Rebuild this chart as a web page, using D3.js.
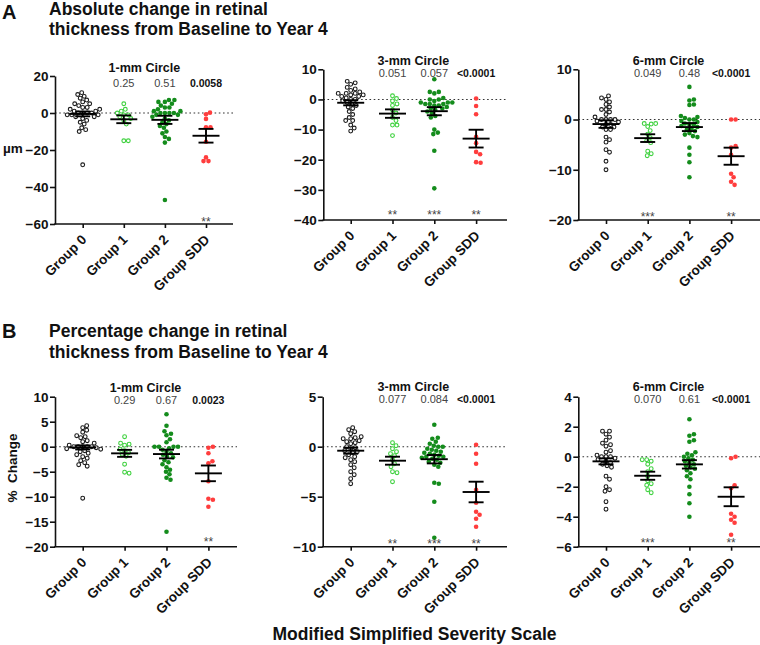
<!DOCTYPE html>
<html><head><meta charset="utf-8">
<script src="https://cdn.jsdelivr.net/npm/d3@7"></script>
<style>
body{margin:0;background:#fff}
svg{display:block;font-family:"Liberation Sans",Arial,Helvetica,sans-serif}
</style>
</head><body>
<svg id="c" width="760" height="645"></svg>
<script>
// ---------- DATA ----------
const groups = ["Group 0", "Group 1", "Group 2", "Group SDD"];

// A: absolute change (µm)
const a1_g0 = [11, 10, 9, 8, 7, 6, 5, 5, 4, 3, 3, 2, 2, 1, 1, 0, 0, 0, 0, -1, -1, -1, -2, -2, -3, -4, -5, -6, -8, -9, -10, -28];
const a1_g1 = [5, 2, 1, 0, -1, -1, -2, -3, -4, -6, -15, -15];
const a1_g2 = [7, 7, 6, 6, 5, 4, 3, 3, 2, 1, 1, 0, 0, 0, 0, -1, -1, -2, -3, -4, -5, -6, -7, -8, -10, -11, -13, -14, -16, -47];
const a1_sdd = [0.2, -0.7, -3.2, -7.7, -7.7, -15.5, -24, -26, -26];
const a1_mean = [-0.5, -3.4, -3.7, -12.3];
const a1_sem = [1.3, 2.1, 2.2, 3.7];
const a1_p = ["", "0.25", "0.51", "0.0058"];
const a1_stars = ["", "", "", "**"];
const a1_ticks = [20, 0, -20, -40, -60];

const a2_g0 = [6, 5.5, 5, 4, 3.5, 3, 2.5, 2, 2, 2, 1.5, 1.5, 1, 1, 0.5, 0, 0, -0.5, -1, -1.5, -2, -2.5, -3, -4, -5, -6, -7, -7, -8.5, -9.5, -10.5];
const a2_g1 = [1.2, 0.3, -0.5, -1.5, -2, -3.5, -4.5, -6, -7, -8.5, -8.5, -12];
const a2_g2 = [6.7, 2.5, 2.5, 2, 0.5, 0, 0, -0.5, -1, -1, -1, -1.5, -1.5, -1.5, -2, -2, -2.5, -3, -3, -3.5, -4, -4.5, -5.5, -6, -10, -11, -11.5, -17, -29.5];
const a2_sdd = [0.3, -2.2, -4.9, -12.4, -14.5, -17.4, -18.2, -20.8, -21];
const a2_mean = [-1.1, -4.7, -3.9, -13];
const a2_sem = [0.85, 1.4, 1.35, 2.95];
const a2_p = ["", "0.051", "0.057", "<0.0001"];
const a2_stars = ["", "**", "***", "**"];
const a2_ticks = [10, 0, -10, -20, -30, -40];

const a3_g0 = [4.7, 4.3, 4, 3.5, 3, 2.5, 2, 2, 1.5, 1, 0.5, 0, 0, 0, 0, -0.3, -0.5, -1, -1, -1.5, -1.5, -2, -2, -3.5, -4, -4.5, -6, -6.5, -8.3, -10];
const a3_g1 = [-0.8, -0.8, -0.9, -1.4, -2.2, -2.9, -3.6, -4.2, -4.6, -6.3, -6.8, -7.2];
const a3_g2 = [6.5, 4, 3.8, 3, 2.9, 0.7, 0.5, 0.3, 0, 0, -0.3, -0.5, -0.8, -1, -1, -1.3, -1.5, -1.8, -2, -2.3, -2.7, -3, -3.3, -3.5, -5.6, -7, -8.5, -11.5];
const a3_sdd = [0, 0, -5.3, -5.6, -7, -10.8, -11.5, -12.4, -13];
const a3_mean = [-0.9, -3.7, -1.5, -7.3];
const a3_sem = [0.75, 0.77, 0.8, 1.7];
const a3_p = ["", "0.049", "0.48", "<0.0001"];
const a3_stars = ["", "***", "", "**"];
const a3_ticks = [10, 0, -10, -20];

// B: percentage change
const b1_g0 = [4.2, 3.8, 3.3, 2.9, 2.2, 2, 1.8, 1.2, 1, 0.7, 0.3, 0, 0, 0, 0, 0, -0.2, -0.4, -0.5, -0.8, -1, -1.3, -1.6, -2, -2.3, -2.8, -3.2, -3.6, -3.9, -10.3];
const b1_g1 = [2, 0.7, 0.5, 0.3, -0.5, -0.8, -1.2, -1.5, -1.9, -3.5, -5.1, -5.3];
const b1_g2 = [6.5, 4.2, 3.1, 2.6, 2.3, 1.5, 0.9, 0, 0, 0, 0, -0.3, -0.6, -1, -1.3, -1.6, -2, -2.1, -2.7, -3.1, -3.5, -4.1, -4.6, -5, -5.5, -6.2, -6.6, -17];
const b1_sdd = [0, -0.2, -1.3, -2.9, -3.3, -6.9, -10.4, -10.6, -12];
const b1_mean = [-0.15, -1.33, -1.47, -5.33];
const b1_sem = [0.4, 0.7, 0.87, 1.57];
const b1_p = ["", "0.29", "0.67", "0.0023"];
const b1_stars = ["", "", "", "**"];
const b1_ticks = [10, 5, 0, -5, -10, -15, -20];

const b2_g0 = [1.9, 1.7, 1.5, 1.3, 1, 0.9, 0.8, 0.8, 0.6, 0.5, 0.4, 0.3, 0, -0.1, -0.2, -0.4, -0.5, -0.6, -0.8, -1, -1.1, -1.3, -1.5, -1.8, -2.1, -2.5, -2.8, -3.2, -3.7];
const b2_g1 = [0.4, 0.1, -0.2, -0.5, -0.7, -0.9, -1.3, -1.7, -2, -2.5, -2.6, -3.5];
const b2_g2 = [2.2, 0.9, 0.8, 0.5, 0.3, 0.1, 0, 0, -0.2, -0.3, -0.4, -0.5, -0.6, -0.7, -0.8, -0.9, -1, -1, -1.1, -1.2, -1.3, -1.5, -1.6, -1.8, -2, -3.6, -3.7, -5.5, -9.1];
const b2_sdd = [0.2, -0.7, -1.7, -4.3, -5.6, -6.5, -6.8, -7.2, -8];
const b2_mean = [-0.4, -1.4, -1.25, -4.53];
const b2_sem = [0.3, 0.4, 0.42, 1.03];
const b2_p = ["", "0.077", "0.084", "<0.0001"];
const b2_stars = ["", "**", "***", "**"];
const b2_ticks = [5, 0, -5, -10];

const b3_g0 = [1.7, 1.7, 1.5, 1.3, 1.1, 0.9, 0.8, 0.7, 0.4, 0.3, 0.1, 0, 0, 0, -0.1, -0.2, -0.3, -0.4, -0.5, -0.6, -0.7, -1.3, -1.5, -2, -2.2, -2.3, -3, -3.5];
const b3_g1 = [-0.2, -0.2, -0.3, -0.5, -0.8, -1, -1.3, -1.6, -1.8, -1.9, -2.2, -2.4];
const b3_g2 = [2.5, 1.5, 1.4, 1.1, 1, 0.3, 0.2, 0.1, 0, -0.1, -0.2, -0.3, -0.4, -0.5, -0.6, -0.7, -0.8, -0.9, -1.1, -1.3, -1.5, -2, -2.5, -3.1, -4];
const b3_sdd = [0, -0.1, -1.9, -2.1, -3.8, -4, -4.2, -4.4, -5.2];
const b3_mean = [-0.31, -1.27, -0.51, -2.67];
const b3_sem = [0.2, 0.27, 0.28, 0.63];
const b3_p = ["", "0.070", "0.61", "<0.0001"];
const b3_stars = ["", "***", "", "**"];
const b3_ticks = [4, 2, 0, -2, -4, -6];

const panelTitles = ["1-mm Circle", "3-mm Circle", "6-mm Circle"];

// ---------- STYLE / LAYOUT ----------
const groupStyle = [
  {fill: "#fff", stroke: "#1a1a1a", r: 1.9, sw: 1.1},
  {fill: "#fff", stroke: "#3ed13e", r: 1.9, sw: 1.1},
  {fill: "#148c1c", stroke: "none", r: 2.3, sw: 0},
  {fill: "#ff3d3d", stroke: "none", r: 2.3, sw: 0}
];

const panels = [
  {title: panelTitles[0], sets: [a1_g0, a1_g1, a1_g2, a1_sdd], mean: a1_mean, sem: a1_sem, p: a1_p, stars: a1_stars, ticks: a1_ticks,
   x0: 55, x1: 233, c0: 82.7, step: 41.1, yTop: 76, yBot: 224, titleY: 71.5, pY: 86.5, starY: 225.5},
  {title: panelTitles[1], sets: [a2_g0, a2_g1, a2_g2, a2_sdd], mean: a2_mean, sem: a2_sem, p: a2_p, stars: a2_stars, ticks: a2_ticks,
   x0: 323.3, x1: 507, c0: 350.7, step: 41.8, yTop: 69.3, yBot: 220, titleY: 65, pY: 76.5, starY: 219},
  {title: panelTitles[2], sets: [a3_g0, a3_g1, a3_g2, a3_sdd], mean: a3_mean, sem: a3_sem, p: a3_p, stars: a3_stars, ticks: a3_ticks,
   x0: 578.3, x1: 760, c0: 606, step: 41.7, yTop: 69.3, yBot: 220, titleY: 65, pY: 76.5, starY: 220.5},
  {title: panelTitles[0], sets: [b1_g0, b1_g1, b1_g2, b1_sdd], mean: b1_mean, sem: b1_sem, p: b1_p, stars: b1_stars, ticks: b1_ticks,
   x0: 55, x1: 237, c0: 82.7, step: 41.9, yTop: 396.7, yBot: 546.7, titleY: 391.5, pY: 403.5, starY: 545.5},
  {title: panelTitles[1], sets: [b2_g0, b2_g1, b2_g2, b2_sdd], mean: b2_mean, sem: b2_sem, p: b2_p, stars: b2_stars, ticks: b2_ticks,
   x0: 322.7, x1: 507, c0: 350.7, step: 41.8, yTop: 396.7, yBot: 546.7, titleY: 391, pY: 402.8, starY: 548},
  {title: panelTitles[2], sets: [b3_g0, b3_g1, b3_g2, b3_sdd], mean: b3_mean, sem: b3_sem, p: b3_p, stars: b3_stars, ticks: b3_ticks,
   x0: 578.3, x1: 760, c0: 606, step: 41.7, yTop: 396.7, yBot: 546.7, titleY: 391, pY: 402.8, starY: 547}
];

const svg = d3.select("#c");

function swarm(vals, y, cx, d) {
  const pts = vals.map(v => ({v, py: y(v)}));
  const med = d3.median(vals);
  pts.sort((a, b) => Math.abs(a.v - med) - Math.abs(b.v - med));
  const placed = [];
  for (const p of pts) {
    let chosen = 0;
    for (let k = 0; k < 400; k++) {
      const off = (k % 2 === 1 ? 1 : -1) * Math.ceil(k / 2) * 0.5;
      let ok = true;
      for (const q of placed) {
        const dx = cx + off - q.px, dy = p.py - q.py;
        if (dx * dx + dy * dy < d * d - 0.01) { ok = false; break; }
      }
      if (ok) { chosen = off; break; }
    }
    p.px = cx + chosen;
    placed.push(p);
  }
  return placed;
}

panels.forEach(P => {
  const g = svg.append("g");
  const y = d3.scaleLinear().domain([d3.min(P.ticks), d3.max(P.ticks)]).range([P.yBot, P.yTop]);
  const x = d3.scalePoint().domain(groups).range([P.c0, P.c0 + 3 * P.step]);

  // dotted zero line
  g.append("line")
    .attr("x1", P.x0).attr("x2", P.x1).attr("y1", y(0)).attr("y2", y(0))
    .attr("stroke", "#333").attr("stroke-width", 1.1).attr("stroke-dasharray", "1.6,2.6");

  // y axis
  const ya = g.append("g").attr("transform", `translate(${P.x0},0)`)
    .call(d3.axisLeft(y).tickValues(P.ticks).tickSize(5).tickSizeOuter(0).tickPadding(1.5).tickFormat(d3.format("d")));
  ya.select(".domain").attr("stroke", "#111").attr("stroke-width", 1.6);
  ya.selectAll(".tick line").attr("stroke", "#111").attr("stroke-width", 1.6);
  ya.selectAll(".tick text").attr("fill", "#111").style("font-size", "13.5px").style("font-weight", "bold")
    .style("font-family", '"Liberation Sans",Arial,sans-serif');

  // x axis
  const xa = g.append("g").attr("transform", `translate(0,${P.yBot})`)
    .call(d3.axisBottom(x).tickSize(4).tickSizeOuter(0));
  xa.select(".domain").remove();
  xa.selectAll(".tick line").attr("stroke", "#111").attr("stroke-width", 1.6);
  xa.selectAll(".tick text").remove();
  g.append("line").attr("x1", P.x0 - 0.8).attr("x2", P.x1).attr("y1", P.yBot).attr("y2", P.yBot)
    .attr("stroke", "#111").attr("stroke-width", 1.6);

  g.selectAll("text.xl").data(groups).enter().append("text")
    .attr("class", "xl")
    .attr("transform", d => `translate(${x(d) + 4.5},${P.yBot + 16.5}) rotate(-45)`)
    .attr("text-anchor", "end")
    .style("font-size", "13.5px").style("font-weight", "bold").attr("fill", "#111")
    .text(d => d);

  // points
  P.sets.forEach((vals, gi) => {
    const st = groupStyle[gi];
    const pts = swarm(vals, y, x(groups[gi]), 4.3);
    g.selectAll(null).data(pts).enter().append("circle")
      .attr("cx", d => d.px).attr("cy", d => d.py).attr("r", st.r)
      .attr("fill", st.fill).attr("stroke", st.stroke).attr("stroke-width", st.sw);
  });

  // mean ± SEM
  groups.forEach((grp, gi) => {
    const cx = x(grp), m = P.mean[gi], s = P.sem[gi];
    const bar = g.append("g").attr("stroke", "#000").attr("stroke-width", 1.9);
    bar.append("line").attr("x1", cx - 13.5).attr("x2", cx + 13.5).attr("y1", y(m)).attr("y2", y(m));
    bar.append("line").attr("x1", cx).attr("x2", cx).attr("y1", y(m + s)).attr("y2", y(m - s));
    bar.append("line").attr("x1", cx - 7.5).attr("x2", cx + 7.5).attr("y1", y(m + s)).attr("y2", y(m + s));
    bar.append("line").attr("x1", cx - 7.5).attr("x2", cx + 7.5).attr("y1", y(m - s)).attr("y2", y(m - s));
  });

  // panel title
  g.append("text").attr("x", (x(groups[1]) + x(groups[2])) / 2).attr("y", P.titleY)
    .attr("text-anchor", "middle").style("font-size", "12.5px").style("font-weight", "bold").attr("fill", "#111")
    .text(P.title);

  // p values
  g.selectAll("text.pv").data(P.p).enter().append("text").attr("class", "pv")
    .attr("x", (d, i) => x(groups[i])).attr("y", P.pY).attr("text-anchor", "middle")
    .style("font-size", (d, i) => i === 3 ? "10.5px" : "11px")
    .style("font-weight", (d, i) => i === 3 ? "bold" : "normal")
    .attr("fill", (d, i) => i === 3 ? "#111" : "#444")
    .text(d => d);

  // stars
  g.selectAll("text.st").data(P.stars).enter().append("text").attr("class", "st")
    .attr("x", (d, i) => x(groups[i])).attr("y", P.starY).attr("text-anchor", "middle")
    .style("font-size", "12px").attr("fill", "#444")
    .text(d => d);
});

// axis labels
svg.append("text").attr("x", 3).attr("y", 153).style("font-size", "13.5px").style("font-weight", "bold").attr("fill", "#111").text("µm");
svg.append("text").attr("transform", "translate(17,468) rotate(-90)").attr("text-anchor", "middle")
  .style("font-size", "13.5px").style("font-weight", "bold").attr("fill", "#111").style("white-space", "pre").text("%  Change");

// section letters & titles
svg.append("text").attr("x", 2).attr("y", 18.5).style("font-size", "20px").style("font-weight", "bold").attr("fill", "#111").text("A");
svg.append("text").attr("x", 2).attr("y", 338).style("font-size", "20px").style("font-weight", "bold").attr("fill", "#111").text("B");
const tA = svg.append("text").attr("x", 49).attr("y", 14.5).style("font-size", "17.5px").style("font-weight", "bold").attr("fill", "#111");
tA.append("tspan").attr("x", 49).text("Absolute change in retinal");
tA.append("tspan").attr("x", 49).attr("dy", 20.5).text("thickness from Baseline to Year 4");
const tB = svg.append("text").attr("x", 49).attr("y", 337).style("font-size", "17.5px").style("font-weight", "bold").attr("fill", "#111");
tB.append("tspan").attr("x", 49).text("Percentage change in retinal");
tB.append("tspan").attr("x", 49).attr("dy", 20.5).text("thickness from Baseline to Year 4");

svg.append("text").attr("x", 414.5).attr("y", 640).attr("text-anchor", "middle")
  .style("font-size", "17.5px").style("font-weight", "bold").attr("fill", "#111").text("Modified Simplified Severity Scale");
</script>
</body></html>
